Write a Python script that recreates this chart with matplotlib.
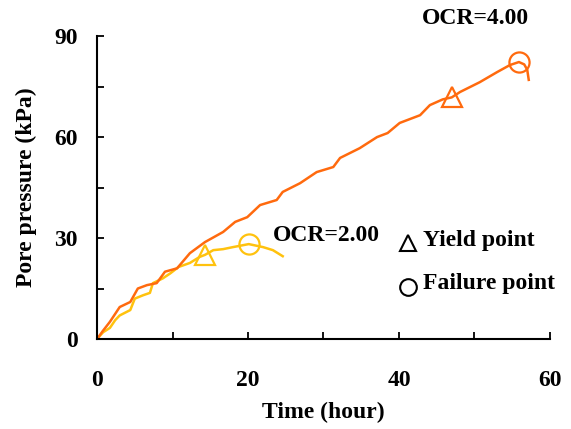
import matplotlib
matplotlib.use("Agg")
import matplotlib.pyplot as plt
from matplotlib.ticker import MultipleLocator

plt.rcParams["font.family"] = ["Liberation Serif", "DejaVu Serif"]
plt.rcParams["font.weight"] = "bold"

# OCR = 4.00 test record
t_ocr4 = [0, 0.8, 1.7, 3.0, 4.4, 5.4, 6.6, 7.9, 9.0, 10.6, 12.3, 14.3, 16.7,
          18.3, 19.9, 21.6, 23.8, 24.6, 26.9, 29.1, 31.3, 32.2, 34.8, 37.1,
          38.5, 40.1, 42.8, 44.1, 45.8, 47.0, 48.1, 50.7, 53.0, 54.7, 55.9,
          56.6, 57.0, 57.2]
p_ocr4 = [0, 2.5, 5.1, 9.5, 11.0, 15.0, 16.0, 16.6, 20.0, 21.0, 25.5, 28.8,
          31.8, 34.8, 36.2, 39.8, 41.3, 43.7, 46.3, 49.6, 51.1, 53.8, 56.7,
          60.0, 61.2, 64.2, 66.5, 69.5, 71.2, 71.8, 73.4, 76.3, 79.3, 81.4,
          82.3, 81.6, 80.0, 77.0]

# OCR = 2.00 test record
t_ocr2 = [0, 0.8, 1.7, 2.4, 3.0, 4.4, 5.0, 6.1, 7.0, 7.4, 8.7, 9.7, 10.8,
          12.3, 13.6, 14.3, 15.4, 16.7, 18.0, 20.1, 22.0, 23.3, 24.6]
p_ocr2 = [0, 2.0, 3.3, 5.6, 7.0, 8.6, 12.0, 13.0, 13.7, 16.6, 18.0, 19.5,
          21.4, 22.6, 24.4, 25.0, 26.4, 26.7, 27.3, 28.2, 27.3, 26.4, 24.6]

# Characteristic points: (time, pore pressure)
yield_ocr4 = (47.0, 71.8)
fail_ocr4 = (55.9, 82.3)
yield_ocr2 = (14.3, 25.0)
fail_ocr2 = (20.1, 28.2)

x_ticks = [0, 20, 40, 60]
y_ticks = [0, 30, 60, 90]

c4 = "#FF6A0E"
c2 = "#FFC20E"
FS = 17

fig = plt.figure(figsize=(5.71, 4.29), dpi=100)
ax = fig.add_axes([0.170, 0.2098, 0.793, 0.706])

ax.plot(t_ocr2, p_ocr2, color=c2, lw=1.8)
ax.plot(t_ocr4, p_ocr4, color=c4, lw=1.8)

mk = dict(ms=14.5, mew=1.6, mfc="none", ls="none", zorder=5)
ax.plot(*yield_ocr2, marker="^", mec=c2, **mk)
ax.plot(*fail_ocr2, marker="o", mec=c2, **mk)
ax.plot(*yield_ocr4, marker="^", mec=c4, **mk)
ax.plot(*fail_ocr4, marker="o", mec=c4, **mk)

ax.set_xlim(0, 60)
ax.set_ylim(0, 90)
ax.set_xticks(x_ticks)
ax.set_yticks(y_ticks)
ax.xaxis.set_minor_locator(MultipleLocator(10))
ax.yaxis.set_minor_locator(MultipleLocator(15))
ax.tick_params(which="both", direction="in", length=5, width=1.3,
               labelsize=FS)
ax.tick_params(axis="x", which="major", pad=22)
ax.tick_params(axis="y", which="major", pad=14)
for lab in ax.get_xticklabels() + ax.get_yticklabels():
    lab.set_fontweight("bold")

for s in ["top", "right"]:
    ax.spines[s].set_visible(False)
for s in ["left", "bottom"]:
    ax.spines[s].set_linewidth(1.5)

ax.set_xlabel("Time (hour)", fontsize=FS, fontweight="bold", labelpad=8)
ax.set_ylabel("Pore pressure (kPa)", fontsize=FS, fontweight="bold",
              labelpad=12)

ax.text(50.2, 95.3, "OCR=4.00", fontsize=FS, fontweight="bold",
        ha="center", va="center", clip_on=False)
ax.text(23.3, 30.9, "OCR=2.00", fontsize=FS, fontweight="bold",
        ha="left", va="center")

# marker key
ax.plot(41.2, 28.6, marker="^", ms=12, mew=1.5, mfc="none", mec="black")
ax.plot(41.2, 15.4, marker="o", ms=12, mew=1.5, mfc="none", mec="black")
ax.text(43.2, 29.4, "Yield point", fontsize=FS, fontweight="bold",
        ha="left", va="center")
ax.text(43.2, 16.6, "Failure point", fontsize=FS, fontweight="bold",
        ha="left", va="center")

fig.savefig("out.png", dpi=100)
